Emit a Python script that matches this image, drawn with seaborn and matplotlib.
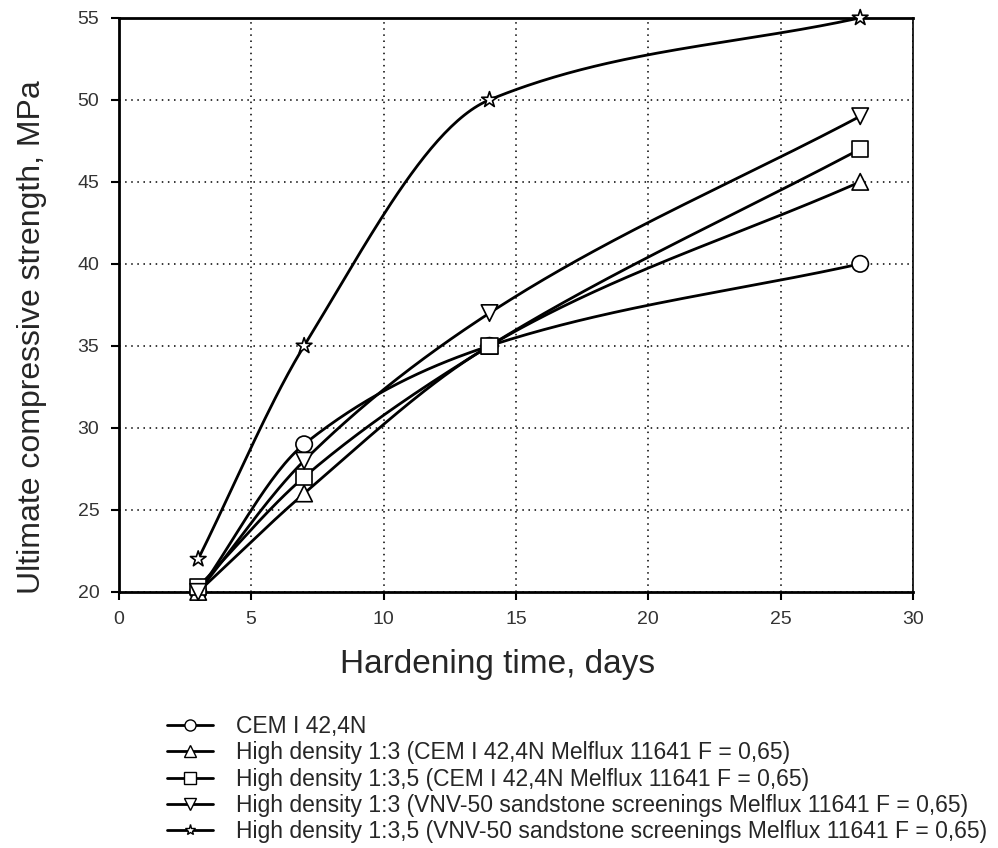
import numpy as np
import pandas as pd
import matplotlib
matplotlib.use("Agg")
import matplotlib.pyplot as plt
import seaborn as sns
from matplotlib.lines import Line2D

days = [3, 7, 14, 28]
cem = [20, 29, 35, 40]
hd_13_cem = [20, 26, 35, 45]
hd_135_cem = [20.3, 27, 35, 47]
hd_13_vnv = [20, 28, 37, 49]
hd_135_vnv = [22, 35, 50, 55]

labels = [
    "CEM I 42,4N",
    "High density 1:3 (CEM I 42,4N Melflux 11641 F = 0,65)",
    "High density 1:3,5 (CEM I 42,4N Melflux 11641 F = 0,65)",
    "High density 1:3 (VNV-50 sandstone screenings Melflux 11641 F = 0,65)",
    "High density 1:3,5 (VNV-50 sandstone screenings Melflux 11641 F = 0,65)",
]
series = [cem, hd_13_cem, hd_135_cem, hd_13_vnv, hd_135_vnv]
markers = ["o", "^", "s", "v", "*"]


def smooth_curve(x, y, n=200):
    # monotone cubic (Fritsch-Carlson) used only to draw the connecting curve
    x = np.asarray(x, float)
    y = np.asarray(y, float)
    h = np.diff(x)
    delta = np.diff(y) / h
    m = np.zeros_like(y)
    m[0] = delta[0]
    m[-1] = delta[-1]
    for i in range(1, len(x) - 1):
        if delta[i - 1] * delta[i] <= 0:
            m[i] = 0
        else:
            w1 = 2 * h[i] + h[i - 1]
            w2 = h[i] + 2 * h[i - 1]
            m[i] = (w1 + w2) / (w1 / delta[i - 1] + w2 / delta[i])
    xs = np.linspace(x[0], x[-1], n)
    idx = np.clip(np.searchsorted(x, xs) - 1, 0, len(x) - 2)
    t = (xs - x[idx]) / h[idx]
    h00 = 2 * t ** 3 - 3 * t ** 2 + 1
    h10 = t ** 3 - 2 * t ** 2 + t
    h01 = -2 * t ** 3 + 3 * t ** 2
    h11 = t ** 3 - t ** 2
    ys = h00 * y[idx] + h10 * h[idx] * m[idx] + h01 * y[idx + 1] + h11 * h[idx] * m[idx + 1]
    return xs, ys


sns.set_theme(style="white")
plt.rcParams["font.family"] = ["Liberation Sans", "DejaVu Sans"]

fig = plt.figure(figsize=(9.98, 8.48), dpi=100)
ax = fig.add_axes([0.119, 0.302, 0.796, 0.677])

df = pd.DataFrame({
    "day": days * len(series),
    "value": [v for s in series for v in s],
    "series": [lab for lab in labels for _ in days],
})

for lab, vals, mk in zip(labels, series, markers):
    xs, ys = smooth_curve(days, vals)
    sns.lineplot(x=xs, y=ys, ax=ax, color="black", linewidth=2, zorder=3)

sns.scatterplot(data=df, x="day", y="value", style="series", markers=dict(zip(labels, markers)),
                ax=ax, s=140, facecolor="white", edgecolor="black", linewidth=1.2,
                zorder=4, legend=False, clip_on=False)

ax.set_xlim(0, 30)
ax.set_ylim(20, 55)
ax.set_xticks(range(0, 31, 5))
ax.set_yticks(range(20, 56, 5))
ax.grid(True, color="black", linestyle=(0, (1, 3)), linewidth=1.1)
for sp in ax.spines.values():
    sp.set_color("black")
    sp.set_linewidth(1.2)
ax.spines["left"].set_linewidth(2)
ax.spines["bottom"].set_linewidth(2)
ax.spines["top"].set_linewidth(2)
ax.tick_params(axis="both", which="major", direction="out", length=6, width=1.5,
               color="black", labelsize=14, labelcolor="#333333", left=True, bottom=True, pad=8)
ax.set_xlabel("Hardening time, days", fontsize=24)
ax.set_ylabel("Ultimate compressive strength, MPa", fontsize=23)
ax.xaxis.set_label_coords(0.477, -0.1)
ax.yaxis.set_label_coords(-0.09, 0.444)

handles = [Line2D([0], [0], color="black", linewidth=2, marker=mk, markersize=8,
                  markerfacecolor="white", markeredgecolor="black") for mk in markers]
fig.legend(handles, labels, loc="upper left", bbox_to_anchor=(0.158, 0.168), frameon=False,
           fontsize=16.5, handlelength=2.0, handletextpad=1.0, labelspacing=0.15, borderaxespad=0)

fig.savefig("out.png", dpi=100)
